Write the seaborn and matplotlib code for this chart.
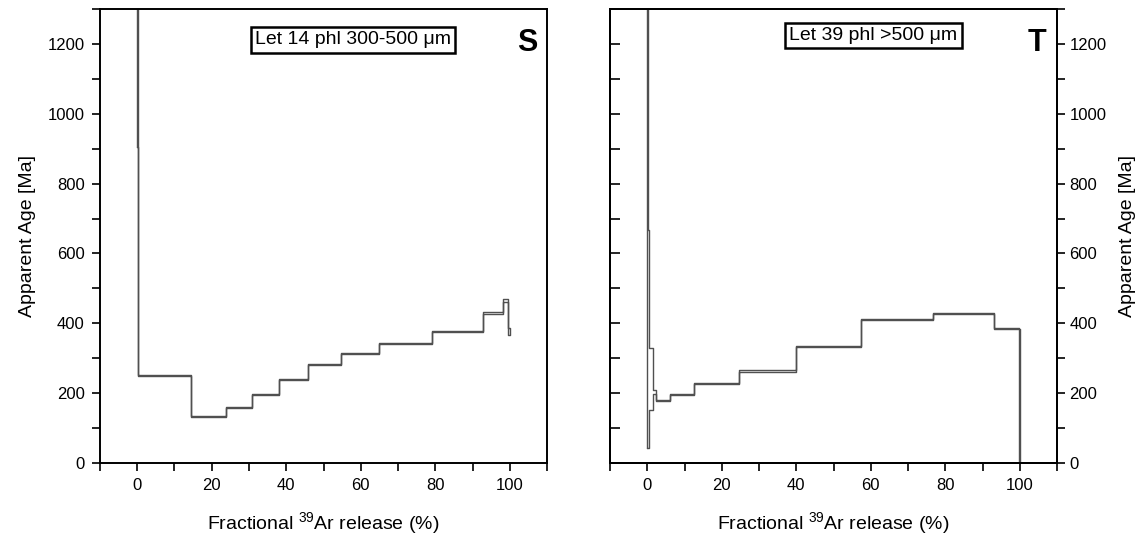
import numpy as np
import pandas as pd
import seaborn as sns
import matplotlib.pyplot as plt
from matplotlib.ticker import MultipleLocator

# panel S: Let 14 phl 300-500 um  (step edges in cumulative % 39Ar, upper / lower age bound in Ma)
s_edges = [0.0, 0.3, 14.4, 23.9, 30.9, 38.0, 45.9, 54.6, 65.0, 79.0, 92.9, 98.3, 99.6, 100.0]
s_upper = [1500, 253, 135, 160, 197, 240, 283, 316, 344, 377, 431, 470, 386]
s_lower = [905, 250, 132, 157, 194, 237, 280, 313, 341, 374, 428, 462, 366]

# panel T: Let 39 phl >500 um
t_edges = [0.0, 0.15, 0.4, 1.6, 2.4, 6.0, 12.6, 24.5, 40.0, 57.3, 76.8, 93.2, 99.8, 100.0]
t_upper = [1500, 666, 329, 210, 181, 199, 230, 265, 335, 413, 429, 386, 385]
t_lower = [43, 43, 153, 199, 178, 196, 227, 262, 332, 410, 426, 383, 0]

labels = ["Let 14 phl 300-500 \u03bcm", "Let 39 phl >500 \u03bcm"]
letters = ["S", "T"]
label_pos = [(0.566, 0.932), (0.589, 0.942)]


def outline(edges, upper, lower):
    # closed outline of the error boxes: upper envelope left->right, lower envelope back
    xs, ys = [edges[0]], [lower[0]]
    for i in range(len(upper)):
        xs += [edges[i], edges[i + 1]]
        ys += [upper[i], upper[i]]
    for i in range(len(lower) - 1, -1, -1):
        xs += [edges[i + 1], edges[i]]
        ys += [lower[i], lower[i]]
    return pd.DataFrame({"x": xs, "y": ys})


sns.set_style("ticks")
plt.rcParams["font.family"] = ["Liberation Sans", "DejaVu Sans"]
plt.rcParams["mathtext.fontset"] = "custom"
plt.rcParams["mathtext.rm"] = "Liberation Sans"
plt.rcParams["axes.linewidth"] = 1.4
for key in ["text.color", "axes.labelcolor", "xtick.color", "ytick.color", "axes.edgecolor"]:
    plt.rcParams[key] = "black"

fig = plt.figure(figsize=(11.48, 5.37), dpi=100)
ax1 = fig.add_axes([0.0871, 0.1378, 0.3894, 0.8454])
ax2 = fig.add_axes([0.5314, 0.1378, 0.3894, 0.8454])

data = [(s_edges, s_upper, s_lower), (t_edges, t_upper, t_lower)]

for ax, (e, u, l), lab, let, pos in zip([ax1, ax2], data, labels, letters, label_pos):
    df = outline(e, u, l)
    sns.lineplot(data=df, x="x", y="y", sort=False, estimator=None,
                 color="#505050", lw=1.0, ax=ax)
    ax.set_xlim(-10, 110)
    ax.set_ylim(0, 1300)
    ax.xaxis.set_major_locator(MultipleLocator(20))
    ax.xaxis.set_minor_locator(MultipleLocator(10))
    ax.yaxis.set_major_locator(MultipleLocator(200))
    ax.yaxis.set_minor_locator(MultipleLocator(100))
    ax.tick_params(axis="x", which="both", direction="out", length=6, width=1.2,
                   labelsize=12, pad=5, top=False)
    ax.set_xlabel(r"Fractional $^{\mathrm{39}}$Ar release (%)", fontsize=14, labelpad=12)
    ax.set_ylabel("")
    ax.text(pos[0], pos[1], lab, transform=ax.transAxes, fontsize=14,
            ha="center", va="center",
            bbox=dict(boxstyle="square,pad=0.22", fc="white", ec="black", lw=1.8))
    ax.text(0.955, 0.925, let, transform=ax.transAxes, fontsize=22,
            fontweight="bold", ha="center", va="center")

ax1.tick_params(axis="y", which="both", direction="out", length=6, width=1.2,
                labelsize=12, pad=5, right=False)
ax1.set_ylabel("Apparent Age [Ma]", fontsize=14, labelpad=8)

# right panel: inward ticks on the left spine, labelled outward ticks on the right
ax2.tick_params(axis="y", which="both", direction="in", length=7, width=1.2,
                labelleft=False, right=False)
ax2r = ax2.twinx()
ax2r.set_ylim(0, 1300)
ax2r.yaxis.set_major_locator(MultipleLocator(200))
ax2r.yaxis.set_minor_locator(MultipleLocator(100))
ax2r.tick_params(axis="y", which="both", direction="out", length=6, width=1.2,
                 labelsize=12, pad=3)
ax2r.set_ylabel("Apparent Age [Ma]", fontsize=14, labelpad=9)

fig.savefig("out.png", dpi=100)
